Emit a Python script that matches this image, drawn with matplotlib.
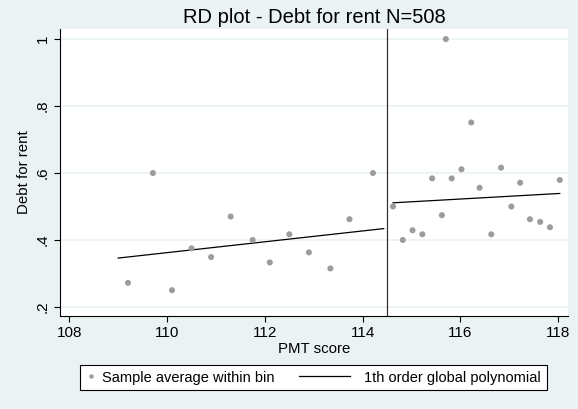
import matplotlib
matplotlib.use("Agg")
import matplotlib.pyplot as plt
from matplotlib.lines import Line2D
from matplotlib.legend_handler import HandlerBase

# binned sample averages, left and right of the cutoff
bin_x = [109.2, 109.71, 110.1, 110.5, 110.9, 111.3, 111.75, 112.1, 112.5, 112.9,
         113.34, 113.73, 114.21,
         114.62, 114.82, 115.02, 115.22, 115.42, 115.62, 115.7, 115.82, 116.02,
         116.22, 116.39, 116.63, 116.83, 117.04, 117.22, 117.42, 117.63, 117.83, 118.03]
bin_y = [0.272, 0.6, 0.25, 0.375, 0.349, 0.47, 0.4, 0.333, 0.417, 0.363,
         0.315, 0.462, 0.6,
         0.5, 0.4, 0.429, 0.417, 0.584, 0.474, 1.0, 0.584, 0.611,
         0.751, 0.556, 0.417, 0.616, 0.5, 0.571, 0.462, 0.454, 0.438, 0.579]

# fitted 1st order polynomial, each side
fit_left_x = [109.0, 114.43]
fit_left_y = [0.346, 0.434]
fit_right_x = [114.62, 118.03]
fit_right_y = [0.511, 0.539]

cutoff = 114.5
xticks = [108, 110, 112, 114, 116, 118]
yticks = [0.2, 0.4, 0.6, 0.8, 1.0]
ytick_labels = [".2", ".4", ".6", ".8", "1"]

bg = "#eaf2f3"
dot_color = "#9c9c9c"
plt.rcParams["font.family"] = ["Liberation Sans", "DejaVu Sans"]


class LongLineHandler(HandlerBase):
    # legend line that is longer than the (short) shared handle box
    def create_artists(self, legend, orig_handle, xdescent, ydescent,
                       width, height, fontsize, trans):
        y = height / 2 - ydescent
        x1 = width - xdescent - 5.2
        x0 = x1 - 36.7
        line = Line2D([x0, x1], [y, y], color=orig_handle.get_color(),
                      lw=orig_handle.get_linewidth(), transform=trans)
        return [line]


fig = plt.figure(figsize=(5.78, 4.09), dpi=100, facecolor=bg)
ax = fig.add_axes([0.1038, 0.2274, 0.879, 0.7016])
ax.set_facecolor("white")

for y in yticks:
    ax.axhline(y, color=bg, lw=1.2, zorder=0)

ax.scatter(bin_x, bin_y, s=19, color=dot_color, edgecolors="none", zorder=3)
ax.plot(fit_left_x, fit_left_y, color="black", lw=0.9, zorder=2)
ax.plot(fit_right_x, fit_right_y, color="black", lw=0.9, zorder=2)
ax.axvline(cutoff, color="#333333", lw=0.9, zorder=2)

ax.set_xlim(107.81, 118.2)
ax.set_ylim(0.173, 1.03)
ax.set_xticks(xticks)
ax.set_xticklabels([str(t) for t in xticks], fontsize=11)
ax.set_yticks(yticks)
ax.set_yticklabels(ytick_labels, fontsize=11, rotation=90, va="center")
ax.tick_params(direction="out", length=4, width=0.8, color="black")

for side in ["top", "right"]:
    ax.spines[side].set_visible(False)
ax.spines["left"].set_color("black")
ax.spines["bottom"].set_color("black")

ax.set_title("RD plot - Debt for rent N=508", fontsize=14.5, pad=4)
ax.set_xlabel("PMT score", fontsize=10.8, labelpad=1)
ax.set_ylabel("Debt for rent", fontsize=10.8, labelpad=3)

dot_handle = Line2D([], [], marker="o", ls="none", color=dot_color,
                    markersize=3.2, markeredgewidth=0)
fit_handle = Line2D([], [], color="black", lw=0.9)
leg = fig.legend([dot_handle, fit_handle],
                 ["Sample average within bin", "1th order global polynomial"],
                 handler_map={fit_handle: LongLineHandler()},
                 loc="center", bbox_to_anchor=(0.5425, 0.077), ncol=2, fontsize=10.5,
                 frameon=True, fancybox=False, edgecolor="black", framealpha=1,
                 handlelength=0.58, handletextpad=0.47, columnspacing=5.12,
                 borderpad=0.4)
leg.get_frame().set_linewidth(0.8)

fig.savefig("out.png", dpi=100, facecolor=bg)
